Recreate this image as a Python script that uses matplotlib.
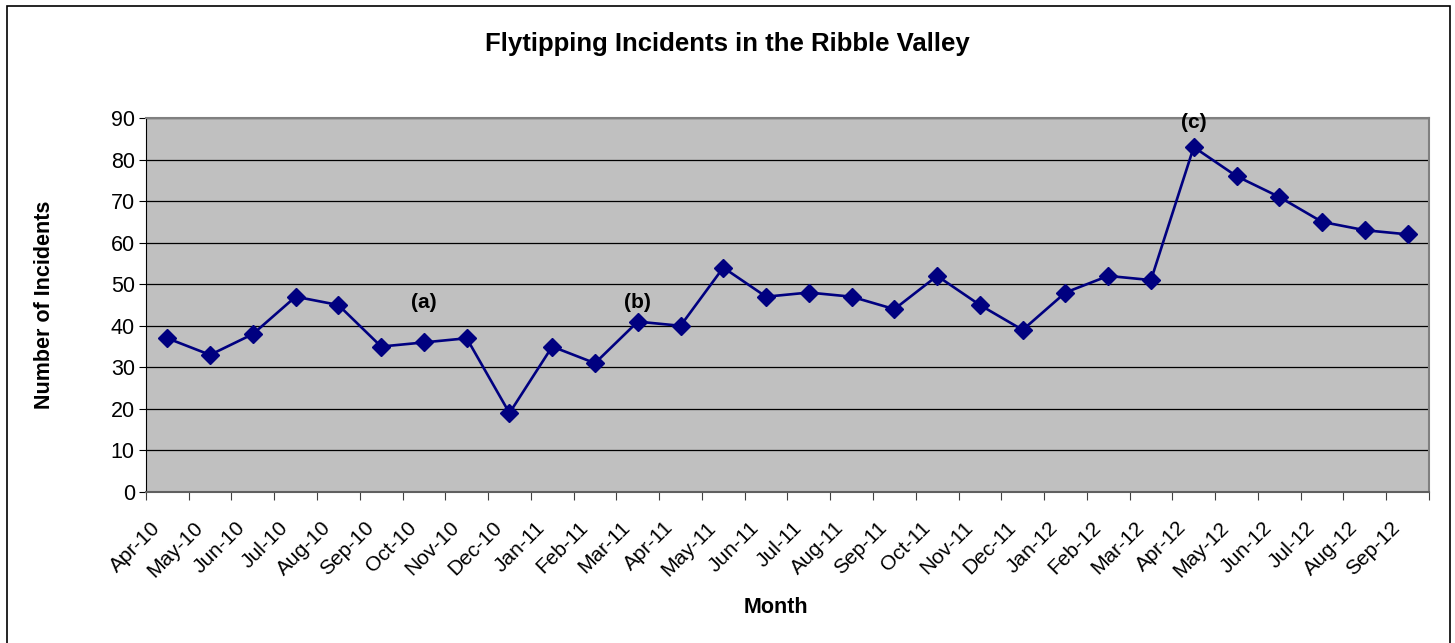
import matplotlib.pyplot as plt
import matplotlib.transforms as mtransforms
from matplotlib.patches import Rectangle

plt.rcParams['font.family'] = ['Liberation Sans', 'DejaVu Sans']

months = ["Apr-10", "May-10", "Jun-10", "Jul-10", "Aug-10", "Sep-10", "Oct-10", "Nov-10",
          "Dec-10", "Jan-11", "Feb-11", "Mar-11", "Apr-11", "May-11", "Jun-11", "Jul-11",
          "Aug-11", "Sep-11", "Oct-11", "Nov-11", "Dec-11", "Jan-12", "Feb-12", "Mar-12",
          "Apr-12", "May-12", "Jun-12", "Jul-12", "Aug-12", "Sep-12"]
incidents = [37, 33, 38, 47, 45, 35, 36, 37, 19, 35, 31, 41, 40, 54, 47, 48, 47, 44,
             52, 45, 39, 48, 52, 51, 83, 76, 71, 65, 63, 62]

# notes placed above the line
note_labels = ["(a)", "(b)", "(c)"]
note_month = [6, 11, 24]
note_y = [45.5, 45.5, 88.8]

fig = plt.figure(figsize=(14.55, 6.43), dpi=100)
ax = fig.add_axes([0.1003, 0.2348, 0.8818, 0.5817])
ax.set_facecolor("#c0c0c0")

x = list(range(len(months)))
ax.plot(x, incidents, color="#000080", linewidth=1.9, marker="D", markersize=9,
        markerfacecolor="#000080", markeredgecolor="#000080", zorder=3)

for lab, i, yv in zip(note_labels, note_month, note_y):
    ax.text(i, yv, lab, ha="center", va="center", fontsize=15, fontweight="bold")

ax.set_xlim(-0.5, len(months) - 0.5)
ax.set_ylim(0, 90)
ax.set_yticks(range(0, 91, 10))
ax.yaxis.grid(True, color="black", linewidth=0.9)
ax.set_axisbelow(True)

ax.set_xticks([i - 0.5 for i in range(len(months) + 1)], minor=False)
ax.set_xticklabels([])
ax.set_xticks(x, minor=True)
ax.set_xticklabels(months, minor=True, rotation=45, ha="right", rotation_mode="anchor", fontsize=15)
ax.tick_params(axis="x", which="minor", length=0, pad=10)
ax.tick_params(axis="x", which="major", length=6, direction="out", color="#404040")
ax.tick_params(axis="y", length=5, direction="out", labelsize=15.5, pad=3)

# excel puts the slanted labels a bit left and lower than the tick centre
shift = mtransforms.ScaledTranslation(-0.17, -0.12, fig.dpi_scale_trans)
for lbl in ax.get_xticklabels(minor=True):
    lbl.set_transform(lbl.get_transform() + shift)

for s in ["top", "right"]:
    ax.spines[s].set_color("#808080")
    ax.spines[s].set_linewidth(1.5)
ax.spines["bottom"].set_color("#606060")
ax.spines["bottom"].set_linewidth(1.5)
ax.spines["left"].set_color("black")

ax.set_xlabel("Month", fontsize=15.5, fontweight="bold")
ax.set_ylabel("Number of Incidents", fontsize=15.5, fontweight="bold")
ax.xaxis.set_label_coords(0.4908, -0.281)
ax.yaxis.set_label_coords(-0.0709, 0.5)
fig.text(0.5, 0.9316, "Flytipping Incidents in the Ribble Valley", ha="center", va="center",
         fontsize=18.5, fontweight="bold")

fig.patches.append(Rectangle((7 / 1455, -0.02), 1443 / 1455, 1.02 - 6 / 643,
                             transform=fig.transFigure, fill=False, edgecolor="black",
                             linewidth=1.2))

fig.savefig("out.png", dpi=100)
